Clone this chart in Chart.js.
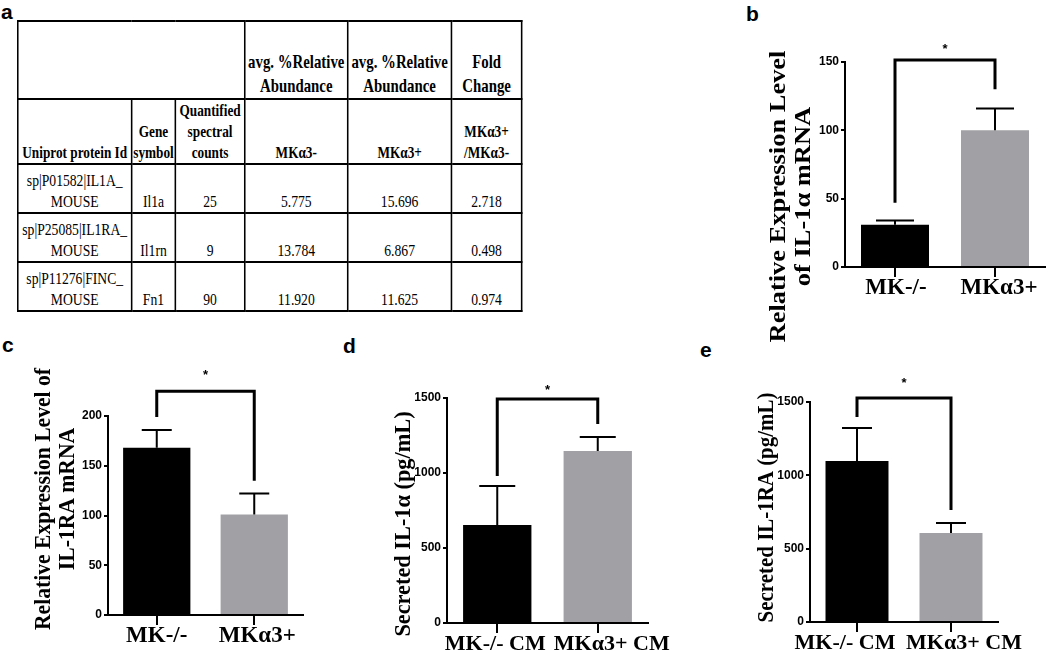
<!DOCTYPE html>
<html lang="en">
<head>
<meta charset="UTF-8">
<title>IL-1α / IL-1RA in MK-/- and MKα3+ cells</title>
<script src="https://cdn.jsdelivr.net/npm/chart.js"></script>
<style>
    body {
        margin: 0;
        width: 1050px;
        height: 651px;
        position: relative;
        overflow: hidden;
        background: #fff;
        font-family: "Liberation Serif", "Times New Roman", serif;
        color: #000;
    }

    .letter {
        position: absolute;
        font: bold 21px/21px "Liberation Sans", Arial, sans-serif;
    }

    canvas {
        position: absolute;
    }

    #tableWrap {
        position: absolute;
        left: 17px;
        top: 20px;
        transform: scaleX(0.78);
        transform-origin: 0 0;
    }

    #protTable {
        border-collapse: collapse;
        table-layout: fixed;
        width: 646px;
    }

    #protTable td {
        border: 2px solid #000;
        padding: 0;
        text-align: center;
        vertical-align: bottom;
        white-space: nowrap;
    }

    #protTable tr.head1 { height: 78px; }
    #protTable tr.head1 td {
        font-weight: bold;
        font-size: 19px;
        line-height: 24px;
    }

    #protTable tr.head2 { height: 65px; }
    #protTable tr.head2 td {
        font-weight: bold;
        font-size: 17px;
        line-height: 21px;
    }

    #protTable tr.body-row { height: 49px; }
    #protTable tr.body-row td {
        font-size: 17.5px;
        line-height: 21px;
    }
</style>
</head>
<body>
    <div class="letter" style="left:1px; top:1px">a</div>
    <div class="letter" style="left:746px; top:3px">b</div>
    <div class="letter" style="left:2px; top:334px">c</div>
    <div class="letter" style="left:343px; top:335px">d</div>
    <div class="letter" style="left:700px; top:339px">e</div>

    <div id="tableWrap">
        <table id="protTable">
            <colgroup>
                <col style="width:146px">
                <col style="width:56px">
                <col style="width:89px">
                <col style="width:132px">
                <col style="width:133px">
                <col style="width:90px">
            </colgroup>
            <tbody id="protBody">
                <tr class="head1">
                    <td colspan="3"></td>
                    <td>avg. %Relative<br>Abundance</td>
                    <td>avg. %Relative<br>Abundance</td>
                    <td>Fold<br>Change</td>
                </tr>
                <tr class="head2">
                    <td>Uniprot protein Id</td>
                    <td>Gene<br>symbol</td>
                    <td>Quantified<br>spectral<br>counts</td>
                    <td>MKα3-</td>
                    <td>MKα3+</td>
                    <td>MKα3+<br>/MKα3-</td>
                </tr>
            </tbody>
        </table>
    </div>

    <canvas id="chartB" width="315" height="320" style="left:735px; top:25px"></canvas>
    <canvas id="chartC" width="340" height="320" style="left:0px; top:355px"></canvas>
    <canvas id="chartD" width="360" height="320" style="left:340px; top:355px"></canvas>
    <canvas id="chartE" width="350" height="320" style="left:700px; top:355px"></canvas>

<script>
    // ---- a: proteomics table ----
    const proteinIds = [
        ['sp|P01582|IL1A_', 'MOUSE'],
        ['sp|P25085|IL1RA_', 'MOUSE'],
        ['sp|P11276|FINC_', 'MOUSE']
    ];
    const geneSymbols = ['Il1a', 'Il1rn', 'Fn1'];
    const spectralCounts = ['25', '9', '90'];
    const abundanceMinus = ['5.775', '13.784', '11.920'];
    const abundancePlus = ['15.696', '6.867', '11.625'];
    const foldChange = ['2.718', '0.498', '0.974'];

    // ---- bar panels ----
    const rnaGroups = ['MK-/-', 'MKα3+'];
    const cmGroups = ['MK-/- CM', 'MKα3+ CM'];

    // b: IL-1α mRNA
    const il1aRnaMean = [31, 100];
    const il1aRnaSem = [3, 16];
    const il1aRnaTicks = [0, 50, 100, 150];
    const il1aRnaBracket = [151.5, 47, 130];   // top, left leg end, right leg end
    const il1aRnaStar = 161;
    const il1aRnaTitle = ['Relative Expression Level', 'of IL-1α mRNA'];

    // c: IL-1RA mRNA
    const il1raRnaMean = [168, 101];
    const il1raRnaSem = [18, 21];
    const il1raRnaTicks = [0, 50, 100, 150, 200];
    const il1raRnaBracket = [225, 199, 135];
    const il1raRnaStar = 244;
    const il1raRnaTitle = ['Relative Expression Level of', 'IL-1RA mRNA'];

    // d: secreted IL-1α
    const il1aSecMean = [653, 1147];
    const il1aSecSem = [260, 93];
    const il1aSecTicks = [0, 500, 1000, 1500];
    const il1aSecBracket = [1493, 980, 1327];
    const il1aSecStar = 1573;
    const il1aSecTitle = ['Secreted IL-1α (pg/mL)'];

    // e: secreted IL-1RA
    const il1raSecMean = [1098, 607];
    const il1raSecSem = [225, 68];
    const il1raSecTicks = [0, 500, 1000, 1500];
    const il1raSecBracket = [1527, 1398, 764];
    const il1raSecStar = 1650;
    const il1raSecTitle = ['Secreted IL-1RA (pg/mL)'];

    const BAR_COLORS = ['#000000', '#a1a1a5'];
    const Y_W = 40;
    const X_H = 40;

    // table rows
    const tbody = document.getElementById('protBody');
    proteinIds.forEach((id, i) => {
        const tr = document.createElement('tr');
        tr.className = 'body-row';
        const cells = [id.join('<br>'), geneSymbols[i], spectralCounts[i],
            abundanceMinus[i], abundancePlus[i], foldChange[i]];
        cells.forEach(c => {
            const td = document.createElement('td');
            td.innerHTML = c;
            tr.appendChild(td);
        });
        tbody.appendChild(tr);
    });

    // error bars, significance bracket, star and y title
    const panelExtras = {
        id: 'panelExtras',
        beforeDraw(chart, args, o) {
            // nudge the wide category labels apart, as in the figure
            const items = chart.scales.x.getLabelItems();
            if (items._shifted) return;
            items.forEach((it, i) => { it.options.translation[0] += o.labelShift[i] || 0; });
            items._shifted = true;
        },
        afterDraw(chart, args, o) {
            const { ctx, chartArea } = chart;
            const y = chart.scales.y;
            const meta = chart.getDatasetMeta(0);
            const vals = chart.data.datasets[0].data;
            ctx.save();
            ctx.strokeStyle = '#000';
            ctx.fillStyle = '#000';

            ctx.lineWidth = 2;
            o.sem.forEach((e, i) => {
                const x = meta.data[i].x;
                const yTop = y.getPixelForValue(vals[i] + e);
                ctx.beginPath();
                ctx.moveTo(x, y.getPixelForValue(vals[i]));
                ctx.lineTo(x, yTop);
                ctx.moveTo(x - o.cap / 2, yTop);
                ctx.lineTo(x + o.cap / 2, yTop);
                ctx.stroke();
            });

            const [top, legL, legR] = o.bracket;
            const xL = meta.data[0].x;
            const xR = meta.data[1].x;
            ctx.lineWidth = 3;
            ctx.lineJoin = 'miter';
            ctx.beginPath();
            ctx.moveTo(xL, y.getPixelForValue(legL));
            ctx.lineTo(xL, y.getPixelForValue(top));
            ctx.lineTo(xR, y.getPixelForValue(top));
            ctx.lineTo(xR, y.getPixelForValue(legR));
            ctx.stroke();

            ctx.font = 'bold 13px "Liberation Sans", Arial, sans-serif';
            ctx.textAlign = 'center';
            ctx.textBaseline = 'alphabetic';
            const m = ctx.measureText('*');
            const yc = y.getPixelForValue(o.star);
            ctx.fillText('*', (xL + xR) / 2, yc + (m.actualBoundingBoxAscent - m.actualBoundingBoxDescent) / 2);

            ctx.font = `bold ${o.titleSize}px "Liberation Serif", "Times New Roman", serif`;
            ctx.translate(chartArea.left + o.titleDx, chartArea.bottom + o.titleDy);
            ctx.rotate(-Math.PI / 2);
            ctx.scale(o.titleStretch, 1);
            o.title.forEach((t, i) => ctx.fillText(t, 0, i * o.titleGap));
            ctx.restore();
        }
    };

    function makePanel(p) {
        const ticks = p.ticks;
        new Chart(document.getElementById(p.id), {
            type: 'bar',
            data: {
                labels: p.labels,
                datasets: [{
                    data: p.mean,
                    backgroundColor: BAR_COLORS,
                    barPercentage: 1,
                    categoryPercentage: p.barPct
                }]
            },
            options: {
                responsive: false,
                animation: false,
                events: [],
                layout: {
                    padding: {
                        left: p.area.l - p.canvas.x - Y_W,
                        top: p.area.t - p.canvas.y,
                        right: p.canvas.x + p.canvas.w - p.area.r,
                        bottom: p.canvas.y + p.canvas.h - p.area.b - X_H
                    }
                },
                plugins: {
                    legend: { display: false },
                    tooltip: { enabled: false },
                    panelExtras: {
                        sem: p.sem,
                        bracket: p.bracket,
                        star: p.star,
                        title: p.title,
                        cap: p.cap,
                        labelShift: p.labelShift,
                        titleSize: 23,
                        titleGap: p.titleGap,
                        titleDx: p.titleDx,
                        titleDy: p.titleDy,
                        titleStretch: p.titleStretch
                    }
                },
                scales: {
                    x: {
                        z: 1,
                        grid: { drawOnChartArea: false, offset: false, tickLength: 10, lineWidth: 2, color: '#000' },
                        border: { color: '#000', width: 2 },
                        ticks: {
                            color: '#000',
                            padding: 0,
                            maxRotation: 0,
                            minRotation: 0,
                            autoSkip: false,
                            font: { family: '"Liberation Serif", "Times New Roman", serif', weight: 'bold', size: p.labelSize, lineHeight: 1 }
                        },
                        afterFit: s => { s.height = X_H; }
                    },
                    y: {
                        min: ticks[0],
                        max: ticks[ticks.length - 1],
                        afterBuildTicks: s => { s.ticks = ticks.map(v => ({ value: v })); },
                        grid: { drawOnChartArea: false, tickLength: 4, lineWidth: 2, color: '#000' },
                        border: { color: '#000', width: 2 },
                        ticks: {
                            color: '#000',
                            padding: 2,
                            callback: v => String(v),
                            font: { family: '"Liberation Sans", Arial, sans-serif', weight: 'bold', size: 12 }
                        },
                        afterFit: s => { s.width = Y_W; }
                    }
                }
            },
            plugins: [panelExtras]
        });
    }

    makePanel({
        id: 'chartB', labels: rnaGroups, mean: il1aRnaMean, sem: il1aRnaSem, ticks: il1aRnaTicks,
        bracket: il1aRnaBracket, star: il1aRnaStar, title: il1aRnaTitle,
        canvas: { x: 735, y: 25, w: 315, h: 320 }, area: { l: 845, t: 62, r: 1045, b: 267 },
        barPct: 0.68, cap: 38, labelSize: 23, labelShift: [1, 4],
        titleDx: -60, titleDy: -70.5, titleGap: 25, titleStretch: 1.15
    });

    makePanel({
        id: 'chartC', labels: rnaGroups, mean: il1raRnaMean, sem: il1raRnaSem, ticks: il1raRnaTicks,
        bracket: il1raRnaBracket, star: il1raRnaStar, title: il1raRnaTitle,
        canvas: { x: 0, y: 355, w: 340, h: 320 }, area: { l: 108, t: 416, r: 303, b: 615 },
        barPct: 0.69, cap: 30, labelSize: 23, labelShift: [0, 3],
        titleDx: -58, titleDy: -116, titleGap: 24, titleStretch: 0.94
    });

    makePanel({
        id: 'chartD', labels: cmGroups, mean: il1aSecMean, sem: il1aSecSem, ticks: il1aSecTicks,
        bracket: il1aSecBracket, star: il1aSecStar, title: il1aSecTitle,
        canvas: { x: 340, y: 355, w: 360, h: 320 }, area: { l: 447, t: 398, r: 648, b: 623 },
        barPct: 0.68, cap: 36, labelSize: 22, labelShift: [-2, 14],
        titleDx: -37, titleDy: -99, titleGap: 24, titleStretch: 0.97
    });

    makePanel({
        id: 'chartE', labels: cmGroups, mean: il1raSecMean, sem: il1raSecSem, ticks: il1raSecTicks,
        bracket: il1raSecBracket, star: il1raSecStar, title: il1raSecTitle,
        canvas: { x: 700, y: 355, w: 350, h: 320 }, area: { l: 810, t: 402, r: 998, b: 622 },
        barPct: 0.67, cap: 30, labelSize: 22, labelShift: [-12, 13],
        titleDx: -37, titleDy: -114.5, titleGap: 24, titleStretch: 0.91
    });
</script>
</body>
</html>
